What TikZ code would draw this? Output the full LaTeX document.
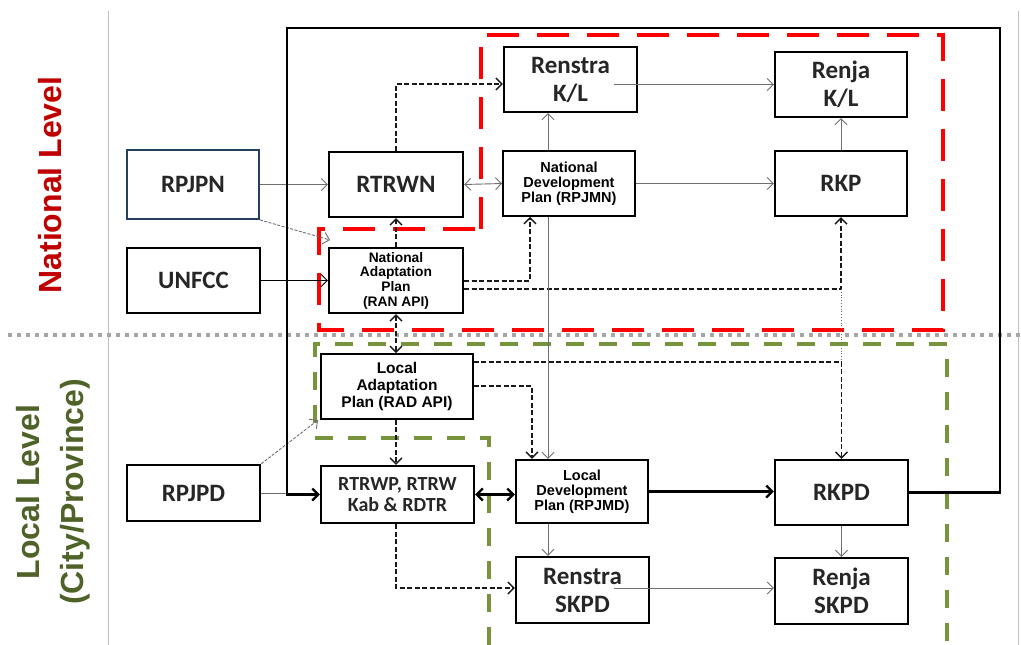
\documentclass[tikz,border=0pt]{standalone}
\usepackage{fontspec}
\setmainfont{Liberation Sans}
\newfontfamily\calfont{Carlito}
\newfontfamily\arialfont{Liberation Sans}
\usetikzlibrary{arrows.meta,calc}
\definecolor{redlbl}{HTML}{C00000}
\definecolor{greenlbl}{HTML}{4F6228}
\definecolor{greendash}{HTML}{77933C}
\definecolor{navy}{HTML}{243F60}
\definecolor{txt}{HTML}{262626}
\definecolor{gline}{HTML}{6E6E6E}
\definecolor{divgray}{HTML}{A6A6A6}
\definecolor{sidegray}{HTML}{BFBFBF}
\begin{document}
\begin{tikzpicture}[x=1pt,y=-1pt,
 >={Straight Barb[length=6pt,width=12pt]},
 box/.style={draw=black, line width=2.4pt, fill=white, inner sep=0pt, align=center, text=txt,
   font=\calfont\bfseries\fontsize{25}{28}\selectfont},
 abox/.style={box, line width=1.8pt, text=black, font=\arialfont\bfseries\fontsize{14.5}{15}\selectfont},
 garr/.style={draw=gline, line width=0.9pt, ->},
 darr/.style={draw=black!90, line width=1.4pt, dash pattern=on 5pt off 2.5pt, ->},
 karr/.style={draw=black, line width=2.2pt, ->}]
\useasboundingbox (0,0) rectangle (1021,645);
% side lines and divider
\draw[sidegray, line width=1pt] (108,11) -- (108,645);
\draw[sidegray, line width=1pt] (1018,11) -- (1018,645);
\draw[divgray, line width=4pt, dash pattern=on 4pt off 5pt] (8,335) -- (1021,335);
% labels
\node[rotate=90, text=redlbl, font=\arialfont\bfseries\fontsize{32}{36}\selectfont] (natlbl) at (50,185) {National Level};
\node[rotate=90, text=greenlbl, align=center, font=\arialfont\bfseries\fontsize{32}{44}\selectfont] (loclbl) at (53,492) {Local Level\\(City/Province)};
% regions
\draw[red, line width=4pt, dash pattern=on 32pt off 18pt] (481,229) -- (481,35) -- (943,35) -- (943,330) -- (319,330) -- (319,229) -- cycle;
\draw[greendash, line width=4pt, dash pattern=on 18pt off 15pt] (489,645) -- (489,438) -- (315,438) -- (315,344) -- (947,344) -- (947,645);
% outer loop coordinates
\coordinate (loopTL) at (287,28);
\coordinate (loopTR) at (1000,28);
% boxes
\node[box, draw=navy, line width=1.8pt, minimum width=132pt, minimum height=69pt] (rpjpn) at (193,184.5) {RPJPN};
\node[box, minimum width=133pt, minimum height=65pt] (unfcc) at (193.5,280.5) {UNFCC};
\node[box, minimum width=134pt, minimum height=65pt] (rtrwn) at (396,184.5) {RTRWN};
\node[abox, minimum width=134pt, minimum height=65pt, line width=2.4pt, font=\arialfont\bfseries\fontsize{13.8}{14.7}\selectfont] (nap) at (396,280.5) {National\\Adaptation\\Plan\\(RAN API)};
\node[box, minimum width=133pt, minimum height=65pt] (renstrakl) at (570.5,79.5) {Renstra\\K/L};
\node[abox, minimum width=132pt, minimum height=65pt] (ndp) at (569,183.5) {National\\Development\\Plan (RPJMN)};
\node[box, minimum width=132pt, minimum height=65pt] (renjakl) at (841,84.5) {Renja\\K/L};
\node[box, minimum width=132pt, minimum height=65pt] (rkp) at (841,183.5) {RKP};
\node[abox, minimum width=152pt, minimum height=65pt, font=\arialfont\bfseries\fontsize{15.5}{17}\selectfont] (lap) at (397,386.5) {Local\\Adaptation\\Plan (RAD API)};
\node[box, minimum width=153pt, minimum height=57pt, font=\calfont\bfseries\fontsize{20}{21}\selectfont] (rtrwp) at (397.5,494.5) {RTRWP, RTRW\\Kab \& RDTR};
\node[abox, minimum width=132pt, minimum height=63pt, line width=2.4pt, font=\arialfont\bfseries\fontsize{14.5}{15}\selectfont] (ldp) at (582,491.5) {Local\\Development\\Plan (RPJMD)};
\node[box, minimum width=133pt, minimum height=66pt] (renstraskpd) at (582.5,590) {Renstra\\SKPD};
\node[box, minimum width=133pt, minimum height=65pt] (rkpd) at (841.5,492.5) {RKPD};
\node[box, minimum width=133pt, minimum height=66pt] (renjaskpd) at (841.5,591) {Renja\\SKPD};
\node[box, minimum width=133pt, minimum height=56pt] (rpjpd) at (193.5,493) {RPJPD};
% helper coordinates
\coordinate (rk1) at ($(renstrakl.west)+(0,4.5)$);
\coordinate (a1) at (463,281);
\coordinate (a2) at (530,281);
\coordinate (b1) at (463,289);
\coordinate (b2) at (841,289);
\coordinate (c1) at (473,362);
\coordinate (c2) at (841,362);
\coordinate (d1) at (473,386);
\coordinate (d2) at (532,386);
\coordinate (e) at (548,0);
\coordinate (f) at (614,0);
\coordinate (g) at (396,588);
\coordinate (napin) at (330,240);
\coordinate (lapin) at (318,420);
% connectors national
\draw[garr] (rpjpn.east) -- (rtrwn.west);
\draw[garr, dash pattern=on 3pt off 1.5pt] (rpjpn.south east) -- (napin);
\draw[draw=black, line width=0.9pt, ->] (unfcc.east) -- (nap.west);
\draw[garr, <->] (rtrwn.east) -- (ndp.west);
\draw[darr] (rtrwn.north) -- (rtrwn.north |- rk1) -- (rk1);
\draw[darr] (nap.north) -- (rtrwn.south);
\draw[darr] (nap.east |- a1) -| (ndp.south -| a2);
\draw[darr] (nap.east |- b1) -| (rkp.south);
\draw[gline, line width=0.8pt, dotted] (b2) -- (c2);
\draw[garr] (ndp.north -| e) -- (renstrakl.south -| e);
\draw[garr] (ndp.east) -- (rkp.west);
\draw[garr] (f |- renjakl.west) -- (renjakl.west);
\draw[garr] (rkp.north) -- (renjakl.south);
% connectors between levels
\draw[darr, <->] (nap.south) -- (nap.south |- lap.north);
\draw[garr] (ndp.south -| e) -- (ldp.north -| e);
\draw[darr] (lap.east |- c1) -| (rkpd.north);
\draw[darr] (lap.east |- d1) -| (ldp.north -| d2);
% local connectors
\draw[darr] (nap.south |- lap.south) -- (nap.south |- rtrwp.north);
\draw[garr, dash pattern=on 3pt off 1.5pt] (rpjpd.north east) -- (lapin);
\draw[gline, line width=0.9pt] (rpjpd.east) -- (rpjpd.east -| loopTL);
\draw[karr, <->] (rtrwp.east) -- (rtrwp.east -| ldp.west);
\draw[karr] (ldp.east) -- (ldp.east -| rkpd.west);
\draw[garr] (ldp.south -| e) -- (renstraskpd.north -| e);
\draw[garr] (rkpd.south) -- (renjaskpd.north);
\draw[darr] (nap.south |- rtrwp.south) |- (renstraskpd.west |- g);
\draw[garr] (f |- g) -- (renjaskpd.west |- g);
% outer loop
\draw[karr] (rkpd.east) -- (rkpd.east -| loopTR) -- (loopTR) -- (loopTL) -- (loopTL |- rtrwp.west) -- (rtrwp.west);
\end{tikzpicture}
\end{document}
